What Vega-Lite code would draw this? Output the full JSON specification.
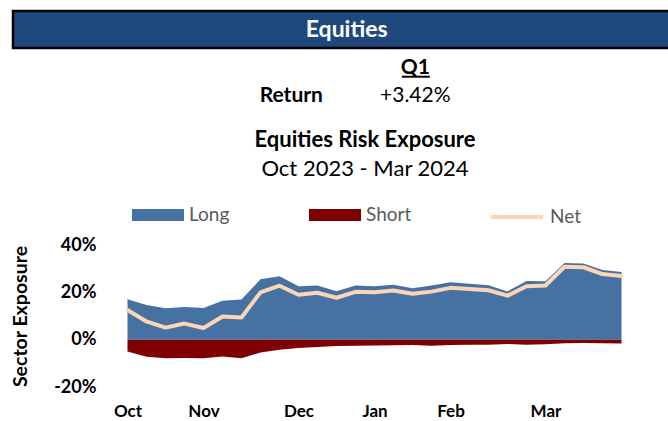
{
  "$schema": "https://vega.github.io/schema/vega-lite/v6.json",
  "padding": {"left": 10, "top": 9, "right": 0, "bottom": 0},
  "background": "white",
  "config": {"font": "Lato", "view": {"stroke": null}},
  "columns": 1,
  "spacing": 5,
  "resolve": {"scale": {"color": "independent", "fill": "independent", "stroke": "independent"}, "legend": {"color": "independent", "fill": "independent", "stroke": "independent"}},
  "concat": [
    {
      "width": 658,
      "height": 37,
      "view": {"fill": "#1F497D", "stroke": "black", "strokeWidth": 2.5},
      "data": {"values": [{"section": "Equities"}]},
      "mark": {"type": "text", "color": "white", "font": "Lato", "fontSize": 23, "fontWeight": "bold", "xOffset": 4.7},
      "encoding": {"text": {"field": "section", "type": "nominal"}}
    },
    {
      "width": 248,
      "height": 69,
      "data": {"values": [
        {"row": "head", "col": "value", "text": "Q1"},
        {"row": "ret", "col": "label", "text": "Return"},
        {"row": "ret", "col": "value", "text": "+3.42%"}
      ]},
      "encoding": {
        "x": {"field": "col", "type": "nominal", "scale": {"type": "point", "domain": ["label", "value"], "padding": 0.5}, "axis": null},
        "y": {"field": "row", "type": "nominal", "scale": {"type": "point", "domain": ["head", "ret"], "padding": 0.715}, "axis": null}
      },
      "layer": [
        {
          "transform": [{"filter": "datum.text !== '+3.42%'"}],
          "mark": {"type": "text", "font": "Lato", "fontSize": 21, "fontWeight": "bold", "color": "black", "baseline": "alphabetic", "xOffset": 216.3, "yOffset": -1.5},
          "encoding": {"text": {"field": "text", "type": "nominal"}}
        },
        {
          "transform": [{"filter": "datum.text === '+3.42%'"}],
          "mark": {"type": "text", "font": "Lato", "fontSize": 21, "fontWeight": "normal", "color": "black", "baseline": "alphabetic", "xOffset": 216.3, "yOffset": -1.5},
          "encoding": {"text": {"field": "text", "type": "nominal"}}
        },
        {
          "transform": [{"filter": "datum.row === 'head'"}],
          "mark": {"type": "tick", "orient": "horizontal", "color": "black", "thickness": 2, "xOffset": 216.8, "yOffset": 1.4, "opacity": 1},
          "encoding": {"size": {"value": 28}}
        }
      ]
    },
    {
      "width": 618,
      "height": 142,
      "title": {
        "text": "Equities Risk Exposure",
        "subtitle": "Oct 2023 - Mar 2024",
        "font": "Lato",
        "fontSize": 22,
        "fontWeight": "bold",
        "color": "black",
        "subtitleFont": "Lato",
        "subtitleFontSize": 22,
        "subtitleColor": "black",
        "subtitlePadding": 7,
        "anchor": "middle",
        "frame": "group",
        "dx": 43,
        "offset": 8
      },
      "data": {"values": [
        {"week": 0, "long": 17.1, "short": -5.0, "net": 12.5},
        {"week": 1, "long": 14.7, "short": -7.2, "net": 7.7},
        {"week": 2, "long": 13.3, "short": -7.9, "net": 5.1},
        {"week": 3, "long": 13.8, "short": -7.7, "net": 6.8},
        {"week": 4, "long": 13.4, "short": -7.9, "net": 4.9},
        {"week": 5, "long": 16.4, "short": -7.1, "net": 9.8},
        {"week": 6, "long": 17.0, "short": -7.8, "net": 9.4},
        {"week": 7, "long": 25.5, "short": -5.4, "net": 20.0},
        {"week": 8, "long": 26.8, "short": -4.3, "net": 22.8},
        {"week": 9, "long": 22.6, "short": -3.5, "net": 19.0},
        {"week": 10, "long": 22.9, "short": -3.1, "net": 19.8},
        {"week": 11, "long": 20.5, "short": -2.7, "net": 17.7},
        {"week": 12, "long": 22.9, "short": -2.6, "net": 20.2},
        {"week": 13, "long": 22.6, "short": -2.5, "net": 20.0},
        {"week": 14, "long": 23.2, "short": -2.4, "net": 20.8},
        {"week": 15, "long": 21.7, "short": -2.3, "net": 19.4},
        {"week": 16, "long": 22.9, "short": -2.6, "net": 20.3},
        {"week": 17, "long": 24.3, "short": -2.3, "net": 21.9},
        {"week": 18, "long": 23.6, "short": -2.2, "net": 21.4},
        {"week": 19, "long": 23.0, "short": -2.1, "net": 20.9},
        {"week": 20, "long": 20.4, "short": -1.8, "net": 18.6},
        {"week": 21, "long": 24.8, "short": -2.2, "net": 22.6},
        {"week": 22, "long": 24.7, "short": -1.9, "net": 22.9},
        {"week": 23, "long": 32.4, "short": -1.5, "net": 30.8},
        {"week": 24, "long": 32.2, "short": -1.4, "net": 30.6},
        {"week": 25, "long": 29.4, "short": -1.5, "net": 27.7},
        {"week": 26, "long": 28.6, "short": -1.6, "net": 26.9}
      ]},
      "encoding": {
        "x": {
          "field": "week", "type": "quantitative",
          "scale": {"domain": [-6.026, 26.5], "nice": false, "zero": false},
          "axis": {
            "title": null, "values": [0, 4, 9, 13, 17, 22],
            "labelExpr": "datum.value == 0 ? 'Oct' : datum.value == 4 ? 'Nov' : datum.value == 9 ? 'Dec' : datum.value == 13 ? 'Jan' : datum.value == 17 ? 'Feb' : 'Mar'",
            "labelFont": "Lato", "labelFontSize": 17, "labelFontWeight": "bold", "labelColor": "black",
            "labelPadding": 16, "ticks": false, "tickSize": 0, "domain": false, "grid": false
          }
        }
      },
      "layer": [
        {
          "data": {"values": [{}]},
          "mark": {"type": "rule", "color": "#D9D9D9", "strokeWidth": 1.5},
          "encoding": {"x": {"datum": -0.5}, "x2": {"datum": 26.5}, "y": {"datum": 40}}
        },
        {
          "data": {"values": [{}]},
          "mark": {"type": "rule", "color": "#D9D9D9", "strokeWidth": 1.5},
          "encoding": {"x": {"datum": -0.5}, "x2": {"datum": 26.5}, "y": {"datum": 20}}
        },
        {
          "data": {"values": [{}]},
          "mark": {"type": "rule", "color": "#D9D9D9", "strokeWidth": 1.5},
          "encoding": {"x": {"datum": -0.5}, "x2": {"datum": 26.5}, "y": {"datum": -20}}
        },
        {
          "mark": {"type": "area", "opacity": 1},
          "encoding": {
            "y": {
              "field": "long", "type": "quantitative", "title": "Sector Exposure",
              "scale": {"domain": [-20, 40], "nice": false, "zero": false},
              "axis": {
                "values": [-20, 0, 20, 40], "labelExpr": "datum.value + '%'",
                "labelFont": "Lato", "labelFontSize": 18, "labelFontWeight": "bold", "labelColor": "black",
                "labelPadding": 22, "ticks": false, "tickSize": 0, "domain": false, "grid": false, "offset": -105,
                "titleFont": "Lato", "titleFontSize": 19.5, "titleFontWeight": "bold", "titleColor": "black", "titlePadding": 23, "titleLimit": 400
              }
            },
            "color": {
              "datum": "Long",
              "scale": {"domain": ["Long"], "range": ["#4672A3"]},
              "legend": {
                "title": null, "orient": "top", "direction": "horizontal",
                "labelFont": "Lato", "labelFontSize": 19, "labelColor": "#595959",
                "symbolType": "M-1,-0.23H1V0.23H-1Z", "symbolSize": 2704, "symbolStrokeWidth": 0, "symbolOpacity": 1,
                "symbolOffset": 119, "labelOffset": 5, "offset": 18
              }
            }
          }
        },
        {
          "mark": {"type": "area", "opacity": 1},
          "encoding": {
            "y": {"field": "short", "type": "quantitative", "title": "Sector Exposure"},
            "fill": {
              "datum": "Short",
              "scale": {"domain": ["Short"], "range": ["#7F0000"]},
              "legend": {
                "title": null, "orient": "top", "direction": "horizontal",
                "labelFont": "Lato", "labelFontSize": 19, "labelColor": "#595959",
                "symbolType": "M-1,-0.23H1V0.23H-1Z", "symbolSize": 2704, "symbolStrokeWidth": 0, "symbolOpacity": 1,
                "symbolOffset": 71, "labelOffset": 5, "offset": 18
              }
            }
          }
        },
        {
          "data": {"values": [{}]},
          "mark": {"type": "rule", "color": "#C9CED6", "strokeWidth": 1.5},
          "encoding": {"x": {"datum": -0.5}, "x2": {"datum": 26.5}, "y": {"datum": 0}}
        },
        {
          "mark": {"type": "line", "strokeWidth": 4, "strokeCap": "round", "strokeJoin": "round"},
          "encoding": {
            "y": {"field": "net", "type": "quantitative", "title": "Sector Exposure"},
            "stroke": {
              "datum": "Net",
              "scale": {"domain": ["Net"], "range": ["#FCD5B4"]},
              "legend": {
                "title": null, "orient": "top", "direction": "horizontal",
                "labelFont": "Lato", "labelFontSize": 19, "labelColor": "#595959",
                "symbolType": "M-1,0H1", "symbolSize": 2704, "symbolStrokeWidth": 4, "symbolOpacity": 1,
                "symbolOffset": 69, "labelOffset": 5, "offset": 18
              }
            }
          }
        }
      ]
    }
  ]
}
